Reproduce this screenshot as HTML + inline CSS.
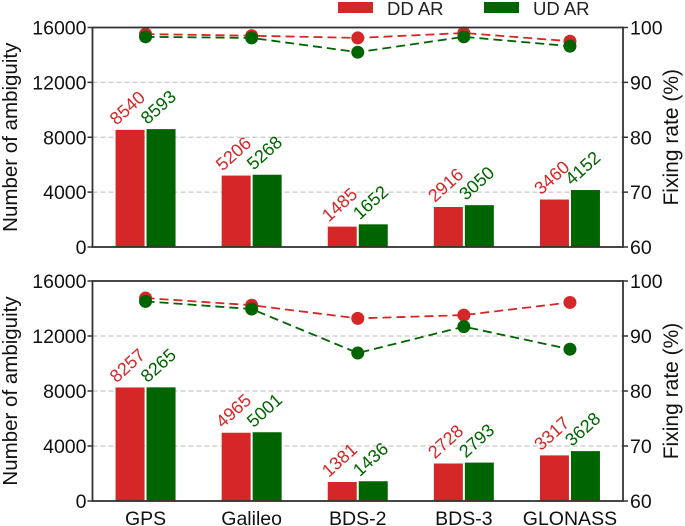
<!DOCTYPE html>
<html><head><meta charset="utf-8"><style>
body{margin:0;background:#fff}
svg{display:block;font-family:"Liberation Sans",Arial,sans-serif}
</style></head><body>
<svg id="chart" width="685" height="526" viewBox="0 0 685 526"></svg>
<script>
const categories=["GPS","Galileo","BDS-2","BDS-3","GLONASS"];
const ddCountTop=[8540,5206,1485,2916,3460];
const udCountTop=[8593,5268,1652,3050,4152];
const ddRateTop=[98.8,98.5,98.1,99.0,97.5];
const udRateTop=[98.3,98.1,95.5,98.3,96.6];
const ddCountBot=[8257,4965,1381,2728,3317];
const udCountBot=[8265,5001,1436,2793,3628];
const ddRateBot=[96.9,95.6,93.2,93.8,96.1];
const udRateBot=[96.3,94.9,86.9,91.7,87.6];
const leftTicks=[0,4000,8000,12000,16000];
const rightTicks=[60,70,80,90,100];

const RED="#d62728",GREEN="#006400";
const svg=document.getElementById('chart');
const NS="http://www.w3.org/2000/svg";
function mk(tag,attrs,parent){const e=document.createElementNS(NS,tag);for(const k in attrs)e.setAttribute(k,attrs[k]);(parent||svg).appendChild(e);return e;}
const X0=92.5,X1=623;
const xc=i=>X0+(X1-X0)/categories.length*(i+0.5);

function panel(top,bot,dd,ud,ddr,udr,pname){
  const g=mk('g',{});
  
  
  const yL=v=>bot-(v/16000)*(bot-top);
  const yR=v=>bot-((v-60)/40)*(bot-top);
  leftTicks.forEach(t=>{
    if(t>0&&t<16000){const l=mk('line',{x1:X0,x2:X1,y1:yL(t),y2:yL(t),stroke:'#c8c8c8','stroke-width':1.2,'stroke-dasharray':'5,3'},g);
    }
    const y=yL(t);
    mk('line',{x1:X0-5,x2:X0,y1:y,y2:y,stroke:'#333','stroke-width':1.5},g);
    const tx=mk('text',{x:X0-6,y:y+7,'text-anchor':'end','font-size':19.5,fill:'#111'},g);
    tx.textContent=t;
    
  });
  rightTicks.forEach(t=>{
    const y=yR(t);
    mk('line',{x1:X1,x2:X1+5,y1:y,y2:y,stroke:'#333','stroke-width':1.5},g);
    const tx=mk('text',{x:X1+7,y:y+7,'font-size':19.5,fill:'#111'},g);
    tx.textContent=t;
    
  });
  const bw=29;
  categories.forEach((c,i)=>{
    const cx=xc(i);
    [[dd,RED,cx-bw-1,'dd'],[ud,GREEN,cx+1,'ud']].forEach(([arr,col,x,s])=>{
      const y=yL(arr[i]);
      const r=mk('rect',{x:x,y:y,width:bw,height:bot-y,fill:col},g);
      
      
      const tx=mk('text',{x:x+1,y:y-4,'font-size':18,fill:col,transform:`rotate(-42 ${x+1} ${y-4})`},g);
      tx.textContent=arr[i];
      
      
    });
  });
  [[ddr,RED,'dd'],[udr,GREEN,'ud']].forEach(([arr,col,s])=>{
    const pts=arr.map((v,i)=>xc(i)+','+yR(v)).join(' ');
    const pl=mk('polyline',{points:pts,fill:'none',stroke:col,'stroke-width':1.8,'stroke-dasharray':'9,5'},g);
    
    
    arr.forEach((v,i)=>{
      const c=mk('circle',{cx:xc(i),cy:yR(v),r:6.5,fill:col},g);
      
      
    });
  });
  const fr=mk('rect',{x:X0,y:top,width:X1-X0,height:bot-top,fill:'none',stroke:'#333','stroke-width':1.8},g);
  
  const my=(top+bot)/2;
  const yl=mk('text',{x:0,y:0,'font-size':20.5,fill:'#111','text-anchor':'middle',transform:`translate(17 ${my}) rotate(-90)`},g);
  yl.textContent='Number of ambiguity';
  
  const yr=mk('text',{x:0,y:0,'font-size':21,fill:'#111','text-anchor':'middle',transform:`translate(678 ${my}) rotate(-90)`},g);
  yr.textContent='Fixing rate (%)';
  
}
panel(27.5,247,ddCountTop,udCountTop,ddRateTop,udRateTop,'top-panel');
panel(281,501,ddCountBot,udCountBot,ddRateBot,udRateBot,'bottom-panel');
categories.forEach((c,i)=>{
  const t=mk('text',{x:xc(i),y:525,'text-anchor':'middle','font-size':19.5,fill:'#111'});
  t.textContent=c;
  
  
});
const lg=mk('g',{});


[[RED,338,'DD AR'],[GREEN,484,'UD AR']].forEach(([col,x,lab])=>{
  const r=mk('rect',{x:x,y:2,width:35,height:11,fill:col},lg);
  
  const t=mk('text',{x:x+49,y:15,'font-size':18.5,fill:'#222'},lg);
  t.textContent=lab;
  
});
</script>
</body></html>
